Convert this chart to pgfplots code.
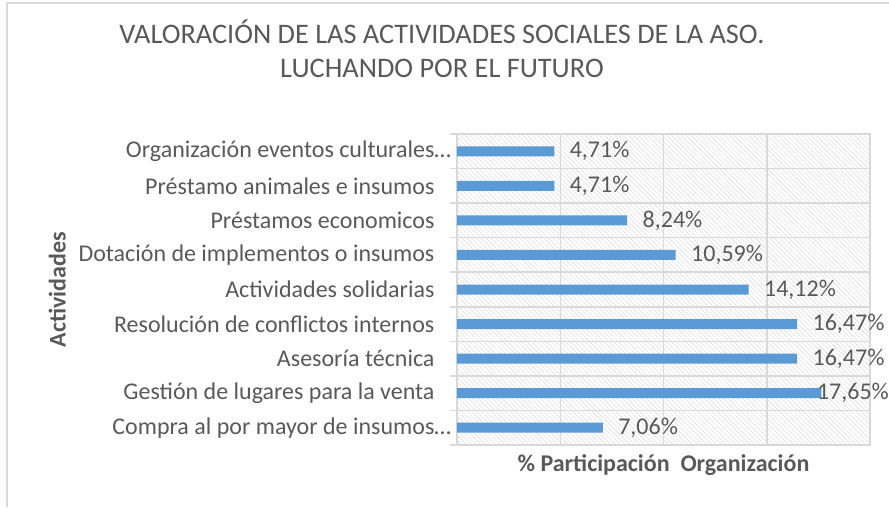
\documentclass[border=0pt]{standalone}
\usepackage{fontspec}
\setmainfont{Carlito}
\usepackage{pgfplots}
\pgfplotsset{compat=1.18}
\usetikzlibrary{patterns.meta}
\definecolor{txt}{HTML}{595959}
\definecolor{grd}{HTML}{D9D9D9}
\definecolor{barblue}{HTML}{5B9BD5}

\begin{document}
\begin{tikzpicture}[x=1pt,y=1pt]
% chart frame (left and top edges visible)
\draw[grd, line width=1.5pt] (7,-507) -- (7,-3) -- (889,-3);
% title
\node[anchor=base, txt, font=\fontsize{28.3}{34}\selectfont] at (442,-43) {VALORACIÓN DE LAS ACTIVIDADES SOCIALES DE LA ASO.};
\node[anchor=base, txt, font=\fontsize{28.3}{34}\selectfont] at (442,-77) {LUCHANDO POR EL FUTURO};
\begin{axis}[
  at={(457pt,-445pt)}, anchor=south west,
  width=413pt, height=311pt, scale only axis,
  xmin=0, xmax=20, ymin=0.5, ymax=9.5,
  xbar, bar width=10pt,
  xtick={0,5,10,15,20}, xticklabels={}, xmajorgrids,
  ytick={1,...,9},
  yticklabels={
    Compra al por mayor de insumos\rlap{…},
    Gestión de lugares para la venta,
    Asesoría técnica,
    Resolución de conflictos internos,
    Actividades solidarias,
    Dotación de implementos o insumos,
    Préstamos economicos,
    Préstamo animales e insumos,
    Organización eventos culturales\rlap{…}},
  minor ytick={0.5,1.5,...,9.5}, yminorgrids,
  ytick pos=left, tick align=outside,
  major tick length=0pt, minor tick length=7pt,
  grid style={grd, line width=1.5pt},
  minor grid style={grd, line width=1.5pt},
  axis line style={grd, line width=1.5pt},
  tick style={grd, line width=1.5pt},
  axis background/.style={pattern={Lines[angle=-45,distance=3.4pt,line width=0.6pt]}, pattern color=black!13},
  y tick label style={font=\fontsize{24}{28}\selectfont, color=txt, xshift=-19pt},
  xlabel={\% Participación\ \ Organización},
  ylabel={Actividades},
  every axis x label/.style={at={(axis description cs:0.5,0)}, anchor=base, yshift=-26pt, font=\bfseries\fontsize{24}{28}\selectfont, color=txt},
  every axis y label/.style={at={(axis description cs:-0.968,0.5)}, rotate=90, anchor=center, font=\bfseries\fontsize{24}{28}\selectfont, color=txt},
  nodes near coords, point meta=explicit symbolic,
  nodes near coords style={font=\fontsize{24}{28}\selectfont, color=txt, anchor=west, xshift=12pt},
]
\addplot[draw=none, fill=barblue] coordinates {
  (7.06,1) [7,06\%]
  (17.65,2) [\hspace{-20pt}17,65\%]
  (16.47,3) [16,47\%]
  (16.47,4) [16,47\%]
  (14.12,5) [14,12\%]
  (10.59,6) [10,59\%]
  (8.24,7) [8,24\%]
  (4.71,8) [4,71\%]
  (4.71,9) [4,71\%]
};
\end{axis}
\pgfresetboundingbox
\useasboundingbox (0,0) rectangle (889,-507);
\end{tikzpicture}
\end{document}
